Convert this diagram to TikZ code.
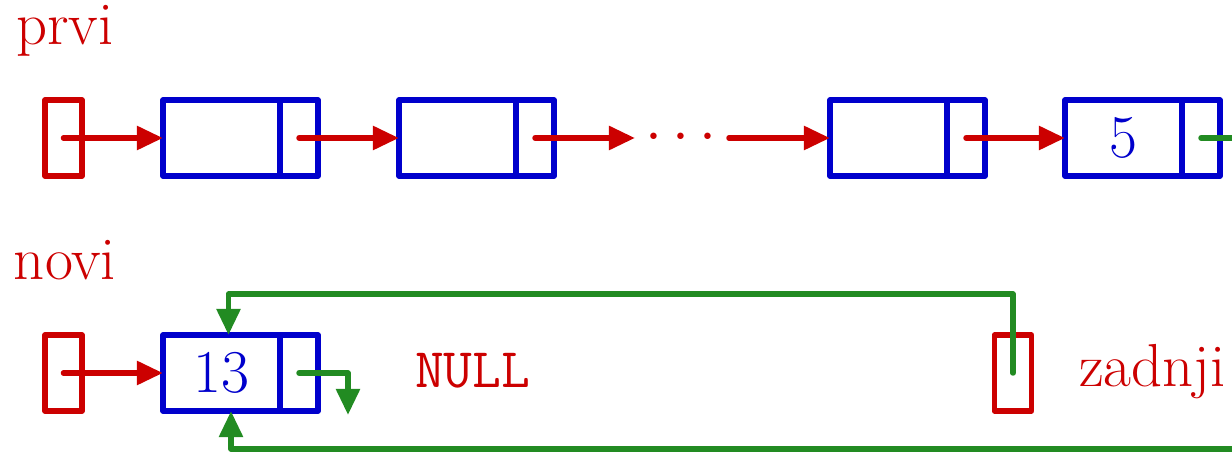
\documentclass[tikz,border=0pt]{standalone}
\usetikzlibrary{arrows.meta,positioning}
\definecolor{lred}{RGB}{204,0,0}
\definecolor{lblue}{RGB}{0,0,204}
\definecolor{lgreen}{RGB}{34,139,34}
\begin{document}
\begin{tikzpicture}[x=0.01cm,y=-0.01cm, font=\fontsize{17.28}{20}\selectfont,
  every node/.style={outer sep=0pt},
  mainbox/.style={draw=lblue, line width=0.055cm, line join=round, minimum width=1.17cm, minimum height=0.76cm, inner sep=0pt, text=lblue},
  ptrbox/.style={draw=lblue, line width=0.055cm, line join=round, minimum width=0.38cm, minimum height=0.76cm, inner sep=0pt},
  headbox/.style={draw=lred, line width=0.055cm, line join=round, minimum width=0.37cm, minimum height=0.76cm, inner sep=0pt},
  redarrow/.style={draw=lred, line width=0.055cm, line cap=round, -{Triangle[length=0.26cm,width=0.23cm]}},
  greenarrow/.style={draw=lgreen, line width=0.055cm, line cap=round, line join=round, -{Triangle[length=0.26cm,width=0.23cm]}},
  greenline/.style={draw=lgreen, line width=0.055cm, line cap=round},
  lbl/.style={text=lred, anchor=base west, inner sep=0pt}]
\useasboundingbox (0,0) rectangle (1232,452);
\clip (0,0) rectangle (1232,452);

% labels
\node[lbl] (lprvi) at (16,45) {prvi};
\node[lbl] (lnovi) at (14,280) {novi};
\node[lbl] (lzad) at (1079,387) {zadnji};
\node[lbl, font=\fontsize{15.9}{18}\selectfont\ttfamily] (lnull) at (415,388) {NULL};

% first row
\node[headbox] (p1) at (63.5,138) {};
\node[mainbox] (a1) at (221.5,138) {};
\node[ptrbox, right=0pt of a1] (a1p) {};
\node[mainbox] (a2) at (457.5,138) {};
\node[ptrbox, right=0pt of a2] (a2p) {};
\node[mainbox] (a3) at (888.5,138) {};
\node[ptrbox, right=0pt of a3] (a3p) {};
\node[mainbox] (a4) at (1123.5,138) {5};
\node[ptrbox, right=0pt of a4] (a4p) {};
\node[text=lred, inner sep=0pt] (dots) at (681,138) {$\cdots$};
\coordinate (e2) at (635,138);
\coordinate (s3) at (729,138);
\coordinate (offR1) at (1260,138);

\draw[redarrow] (p1.center) -- (a1.west);
\draw[redarrow] (a1p.center) -- (a2.west);
\draw[redarrow] (a2p.center) -- (e2);
\draw[redarrow] (s3) -- (a3.west);
\draw[redarrow] (a3p.center) -- (a4.west);
\draw[greenline] (a4p.center) -- (offR1);

% second row
\node[headbox] (p2) at (63.5,373) {};
\node[mainbox] (b1) at (221.5,373) {13};
\node[ptrbox, right=0pt of b1] (b1p) {};
\node[headbox] (z) at (1013,373) {};
\coordinate (nulltip) at (348,415);
\coordinate (offR2) at (1260,449);

\draw[redarrow] (p2.center) -- (b1.west);
\draw[greenarrow] (b1p.center) -| (nulltip);
\draw[greenarrow] (z.center) -- ++(0,-79) -| ([xshift=0.07cm]b1.north);
\draw[greenarrow] (offR2) -| ([xshift=0.095cm]b1.south);
\end{tikzpicture}
\end{document}
